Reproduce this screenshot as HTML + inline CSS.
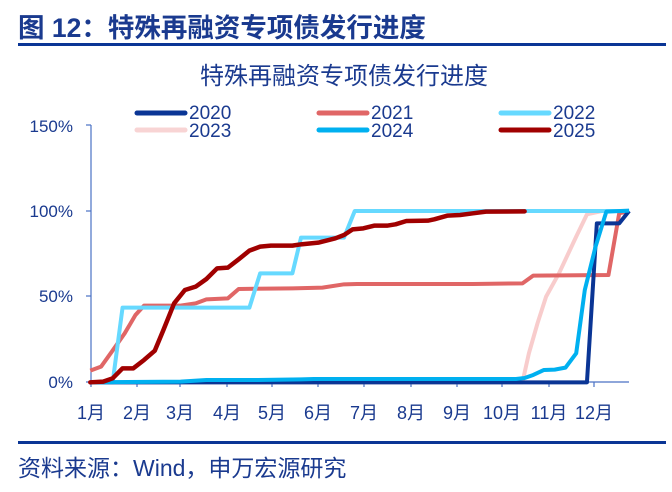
<!DOCTYPE html>
<html><head><meta charset="utf-8"><style>
body{margin:0;background:#fff;width:672px;height:487px;overflow:hidden;font-family:"Liberation Sans","Noto Sans CJK SC",sans-serif;}
</style></head><body>
<svg width="672" height="487" xmlns="http://www.w3.org/2000/svg" font-family="Liberation Sans, Noto Sans CJK SC, sans-serif">
<text x="18" y="37" font-size="26.5" font-weight="bold" fill="#1a3a8f">图 12：特殊再融资专项债发行进度</text>
<rect x="18" y="43" width="648" height="3" fill="#0a3595"/>
<text x="344" y="84" font-size="24" fill="#1a3a8f" text-anchor="middle">特殊再融资专项债发行进度</text>
<g stroke-width="5" stroke-linecap="round">
<line x1="137" y1="113" x2="185" y2="113" stroke="#0a3595"/>
<line x1="319" y1="113" x2="367" y2="113" stroke="#e06666"/>
<line x1="501" y1="113" x2="549" y2="113" stroke="#66d9ff"/>
<line x1="137" y1="130" x2="185" y2="130" stroke="#f8d4d4"/>
<line x1="319" y1="130" x2="367" y2="130" stroke="#00b0f0"/>
<line x1="501" y1="130" x2="549" y2="130" stroke="#a00000"/>
</g>
<g font-size="19" fill="#1a3a8f">
<text x="189" y="119">2020</text><text x="371" y="119">2021</text><text x="553" y="119">2022</text>
<text x="189" y="137">2023</text><text x="371" y="137">2024</text><text x="553" y="137">2025</text>
</g>
<g font-size="17" fill="#1a3a8f" text-anchor="end">
<text x="73" y="132">150%</text><text x="73" y="217">100%</text><text x="73" y="302">50%</text><text x="73" y="388">0%</text>
</g>
<g stroke="#4a72c4" stroke-width="1.2">
<line x1="91" y1="125" x2="91" y2="382"/><line x1="91" y1="382" x2="629" y2="382"/>
<line x1="86" y1="125" x2="91" y2="125"/><line x1="86" y1="211" x2="91" y2="211"/><line x1="86" y1="296" x2="91" y2="296"/><line x1="86" y1="382" x2="91" y2="382"/>
<line x1="91" y1="382" x2="91" y2="387"/><line x1="137" y1="382" x2="137" y2="387"/><line x1="180" y1="382" x2="180" y2="387"/><line x1="227" y1="382" x2="227" y2="387"/><line x1="272" y1="382" x2="272" y2="387"/><line x1="318" y1="382" x2="318" y2="387"/><line x1="364" y1="382" x2="364" y2="387"/><line x1="411" y1="382" x2="411" y2="387"/><line x1="457" y1="382" x2="457" y2="387"/><line x1="502" y1="382" x2="502" y2="387"/><line x1="549" y1="382" x2="549" y2="387"/><line x1="594" y1="382" x2="594" y2="387"/>
</g>
<g font-size="18" fill="#1a3a8f" text-anchor="middle">
<text x="91" y="419">1月</text><text x="137" y="419">2月</text><text x="180" y="419">3月</text><text x="227" y="419">4月</text><text x="272" y="419">5月</text><text x="318" y="419">6月</text><text x="364" y="419">7月</text><text x="411" y="419">8月</text><text x="457" y="419">9月</text><text x="502" y="419">10月</text><text x="549" y="419">11月</text><text x="594" y="419">12月</text>
</g>
<g transform="translate(0,180) scale(0.43,0.3333)" fill="none" stroke-linejoin="round">
<polyline vector-effect="non-scaling-stroke" stroke-width="4" stroke="#f8cccc" points="210,607 1215,607 1230,520 1250,430 1270,350 1300,280 1340,170 1365,103 1400,93 1463,93"/>
<polyline vector-effect="non-scaling-stroke" stroke-width="4" stroke="#e06666" points="210,572 235,560 260,515 290,460 315,405 335,377 420,377 455,370 480,358 530,355 555,327 680,325 750,323 800,313 830,312 1100,312 1215,310 1240,287 1415,285 1440,100 1463,93"/>
<polyline vector-effect="non-scaling-stroke" stroke-width="4" stroke="#66d9ff" points="210,607 262,607 285,383 580,383 605,280 680,280 700,173 800,173 825,93 1463,93"/>
<polyline vector-effect="non-scaling-stroke" stroke-width="4" stroke="#0a3595" points="210,607 1365,607 1388,130 1440,130 1463,93"/>
<polyline vector-effect="non-scaling-stroke" stroke-width="4" stroke="#00b0f0" points="210,607 420,605 480,600 600,600 700,598 730,597 1200,597 1220,594 1240,585 1265,570 1290,569 1315,563 1340,520 1360,330 1385,200 1410,95 1463,92"/>
<polyline vector-effect="non-scaling-stroke" stroke-width="4.5" stroke="#a00000" stroke-linecap="round" points="210,607 240,605 262,595 285,565 310,565 335,540 360,512 380,450 405,370 430,330 455,320 480,297 505,265 530,263 555,238 580,212 605,200 630,197 680,197 700,193 740,188 780,175 800,165 820,148 845,145 870,137 900,137 920,133 945,123 995,122 1010,118 1040,107 1070,105 1100,100 1130,95 1220,94"/>
</g>
<rect x="18" y="441" width="648" height="3" fill="#0a3595"/>
<text x="18" y="476" font-size="23" fill="#1a3a8f">资料来源：Wind，申万宏源研究</text>
</svg>
</body></html>
